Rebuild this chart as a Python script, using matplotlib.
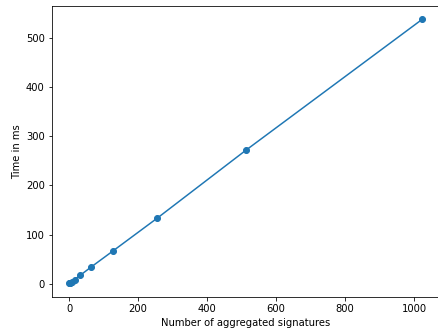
import matplotlib
matplotlib.use("Agg")
import matplotlib.pyplot as plt

signatures = [1, 2, 4, 8, 16, 32, 64, 128, 256, 512, 1024]
time_ms = [0.6, 1.2, 2.2, 4.3, 8.6, 17.0, 34.0, 67.0, 133.5, 271.0, 537.5]

fig = plt.figure(figsize=(438 / 72, 333 / 72), dpi=72)
ax = fig.add_axes([51.7 / 438, 36.3 / 333, (440 - 51.7) / 438, (296.7 - 6) / 333])
ax.plot(signatures, time_ms, marker="o")
ax.set_xlabel("Number of aggregated signatures")
ax.set_ylabel("Time in ms")

fig.savefig("out.png", dpi=72)
